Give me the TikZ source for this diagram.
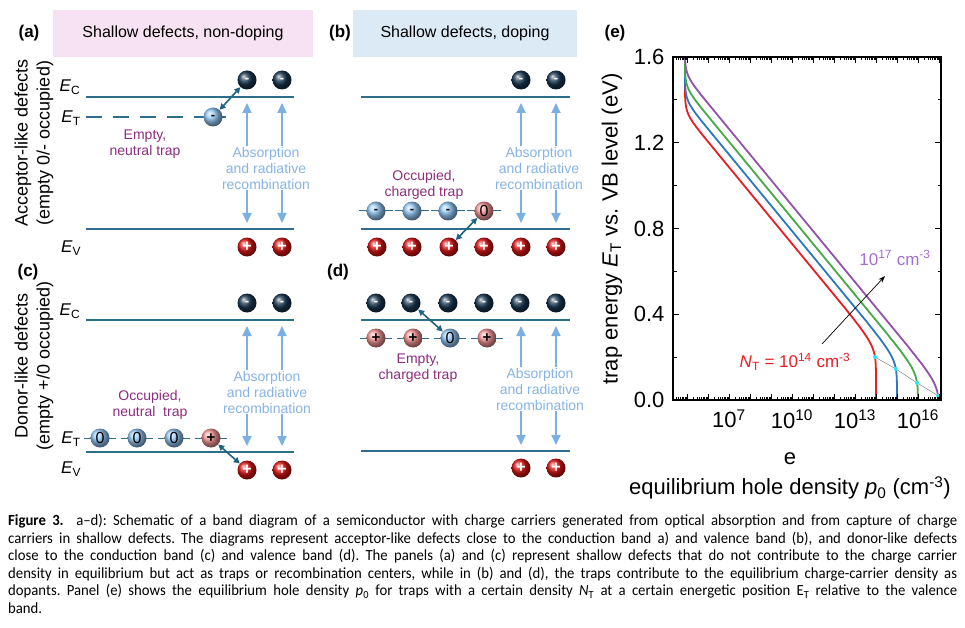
\documentclass[tikz,border=0pt]{standalone}
\usepackage{fontspec}
\setmainfont{Liberation Sans}
\newfontfamily\capfont[FakeStretch=0.95]{Carlito}
\frenchspacing
\usetikzlibrary{arrows.meta}

\definecolor{pinkc}{RGB}{246,226,242}
\definecolor{bluebc}{RGB}{220,234,246}
\definecolor{bandc}{RGB}{46,110,138}
\definecolor{hopc}{RGB}{30,100,128}
\definecolor{arrc}{RGB}{125,176,226}
\definecolor{abstc}{RGB}{135,180,228}
\definecolor{purpc}{RGB}{140,45,125}
\definecolor{elecc}{RGB}{25,55,82}
\definecolor{holec}{RGB}{220,20,20}
\definecolor{trapbc}{RGB}{150,202,248}
\definecolor{trappc}{RGB}{248,150,150}
\definecolor{redc}{RGB}{232,30,36}
\definecolor{bluec}{RGB}{44,120,190}
\definecolor{greenc}{RGB}{70,170,70}
\definecolor{purc}{RGB}{146,82,170}
\definecolor{purlt}{RGB}{165,110,210}
\definecolor{cyanc}{RGB}{40,230,240}

\tikzset{
  bandline/.style={draw=bandc, line width=1.8pt},
  trapline/.style={draw=bandc, line width=1pt},
  bead/.style={circle, inner sep=0pt, minimum size=19pt},
  elec/.style={bead, ball color=elecc, text=white, font=\fontsize{13}{13}\selectfont\bfseries},
  hole/.style={bead, ball color=holec, text=white, font=\fontsize{16}{16}\selectfont\bfseries},
  trapb/.style={bead, ball color=trapbc, text=black, font=\fontsize{16}{16}\selectfont},
  trapp/.style={bead, ball color=trappc, text=black, font=\fontsize{16}{16}\selectfont},
  hop/.style={draw=hopc, line width=1.6pt, >={Triangle[width=6pt,length=6pt]}, <->},
  optarr/.style={draw=arrc, line width=1.8pt, >={Triangle[width=9pt,length=10pt]}, <->},
  opttext/.style={fill=white, text=abstc, align=center, inner sep=1pt, font=\fontsize{14}{16}\selectfont},
  traptext/.style={text=purpc, align=center, font=\fontsize{14}{16}\selectfont},
  elab/.style={font=\fontsize{17}{17}\selectfont},
  panellab/.style={font=\fontsize{17}{17}\selectfont\bfseries},
  sidelab/.style={rotate=90, align=center, font=\fontsize{18}{22}\selectfont},
  titlebox/.style={minimum height=47pt, font=\fontsize{16}{16}\selectfont},
  curve/.style={line width=1.8pt},
  axtick/.style={line width=0.8pt},
  ticklab/.style={font=\fontsize{22}{22}\selectfont},
  dot/.style={circle, fill=cyanc, inner sep=0pt, minimum size=4pt},
  capnode/.style={anchor=north west, text width=949pt, align=justify, inner sep=0pt,
    font=\capfont\fontsize{15.5}{17.6}\selectfont},
}

\begin{document}
\begin{tikzpicture}[x=1pt, y=-1pt,
  declare function={
    dlt(\ee,\nn)=\nn-18.25+\ee/0.0595;
    ltr(\ee,\nn)=(dlt(\ee,\nn)>3) ? (\nn-dlt(\ee,\nn)/2) : (\nn+log10(2/(1+sqrt(1+4*exp(2.302585*max(min(dlt(\ee,\nn),3),-6))))));
    lpz(\ee,\nn)=max(ltr(\ee,\nn),4.9)+0.5*log10(1+exp(-4.60517*min(abs(ltr(\ee,\nn)-4.9),5)));
    hx(\ee,\nn)=876+21*(lpz(\ee,\nn)-14);
    hy(\ee)=400-214.375*\ee;
  }]
\useasboundingbox (0,0) rectangle (965,628);

% (a) acceptor-like, non-doping
\node[panellab] (la) at (29,33) {(a)};
\node[titlebox, fill=pinkc, minimum width=260pt] (ta) at (183,33.5) {Shallow defects, non-doping};
\node[sidelab] (sa) at (34,143) {Acceptor-like defects\\(empty 0/- occupied)};
\node[elab] (eca) at (70,87) {\textit{E}\textsubscript{C}};
\node[elab] (eta) at (71,118) {\textit{E}\textsubscript{T}};
\node[elab] (eva) at (71,248) {\textit{E}\textsubscript{V}};
\draw[bandline] (86,97) -- (294,97);
\draw[bandline, dash pattern=on 16pt off 11pt] (86,117) -- (226,117);
\draw[bandline] (86,229) -- (294,229);
\coordinate (a1t) at (247,103);
\coordinate (a1b) at (247,223);
\coordinate (a2t) at (282,103);
\coordinate (a2b) at (282,223);
\draw[optarr] (a1t) -- (a1b);
\draw[optarr] (a2t) -- (a2b);
\node[opttext] (oa) at (266,168) {Absorption\\and radiative\\recombination};
\node[traptext] (tta) at (145,144) {Empty,\\neutral trap};
\node[elec] (ea1) at (247,80) {-};
\node[elec] (ea2) at (282,80) {-};
\node[hole] (ha1) at (247,247) {+};
\node[hole] (ha2) at (282,247) {+};
\node[trapb, font=\fontsize{13}{13}\selectfont\bfseries] (tra) at (213,117) {-};
\draw[hop] (tra) -- (ea1);

% (b) acceptor-like, doping
\node[panellab] (lb) at (340,33) {(b)};
\node[titlebox, fill=bluebc, minimum width=224pt] (tb) at (465,33.5) {Shallow defects, doping};
\draw[bandline] (361,97) -- (570,97);
\draw[bandline] (361,229) -- (570,229);
\foreach \x in {376,412,448,484}
  \draw[trapline] (\x-17,211) -- (\x+17,211);
\coordinate (b1t) at (521,103);
\coordinate (b1b) at (521,223);
\coordinate (b2t) at (556,103);
\coordinate (b2b) at (556,223);
\draw[optarr] (b1t) -- (b1b);
\draw[optarr] (b2t) -- (b2b);
\node[opttext] (ob) at (539,168) {Absorption\\and radiative\\recombination};
\node[traptext] (ttb) at (424,185) {Occupied,\\charged trap};
\node[elec] (eb1) at (521,80) {-};
\node[elec] (eb2) at (556,80) {-};
\node[trapb, font=\fontsize{13}{13}\selectfont\bfseries] (trb1) at (376,211) {-};
\node[trapb, font=\fontsize{13}{13}\selectfont\bfseries] (trb2) at (412,211) {-};
\node[trapb, font=\fontsize{13}{13}\selectfont\bfseries] (trb3) at (448,211) {-};
\node[trapp] (trb4) at (484,211) {0};
\foreach \x [count=\i] in {377,412,449,484,521,556}
  \node[hole] (hb\i) at (\x,247) {+};
\draw[hop] (hb3) -- (trb4);

% (c) donor-like, non-doping
\node[panellab] (lc) at (28,272) {(c)};
\node[sidelab] (sc) at (34,366) {Donor-like defects\\(empty +/0 occupied)};
\node[elab] (ecc) at (70,311) {\textit{E}\textsubscript{C}};
\node[elab] (etc) at (71,439) {\textit{E}\textsubscript{T}};
\node[elab] (evc) at (71,469) {\textit{E}\textsubscript{V}};
\draw[bandline] (86,320) -- (294,320);
\draw[bandline] (86,452) -- (294,452);
\foreach \x in {100,137,174,211}
  \draw[trapline] (\x-16,438) -- (\x+16,438);
\coordinate (c1t) at (247,326);
\coordinate (c1b) at (247,446);
\coordinate (c2t) at (282,326);
\coordinate (c2b) at (282,446);
\draw[optarr] (c1t) -- (c1b);
\draw[optarr] (c2t) -- (c2b);
\node[opttext] (oc) at (267,392) {Absorption\\and radiative\\recombination};
\node[traptext] (ttc) at (150,405) {Occupied,\\neutral \ trap};
\node[elec] (ec1) at (247,303) {-};
\node[elec] (ec2) at (282,303) {-};
\node[trapb] (trc1) at (100,438) {0};
\node[trapb] (trc2) at (137,438) {0};
\node[trapb] (trc3) at (174,438) {0};
\node[trapp, font=\fontsize{15}{15}\selectfont\bfseries] (trc4) at (211,438) {+};
\node[hole] (hc1) at (247,470) {+};
\node[hole] (hc2) at (282,470) {+};
\draw[hop] (trc4) -- (hc1);

% (d) donor-like, doping
\node[panellab] (ld) at (338,272) {(d)};
\draw[bandline] (361,320) -- (570,320);
\draw[bandline] (361,451) -- (570,451);
\foreach \x in {376,413,450,487}
  \draw[trapline] (\x-16,338) -- (\x+16,338);
\coordinate (d1t) at (521,326);
\coordinate (d1b) at (521,445);
\coordinate (d2t) at (556,326);
\coordinate (d2b) at (556,445);
\draw[optarr] (d1t) -- (d1b);
\draw[optarr] (d2t) -- (d2b);
\node[opttext] (od) at (540,389) {Absorption\\and radiative\\recombination};
\node[traptext] (ttd) at (418,368) {Empty,\\charged trap};
\foreach \x [count=\i] in {376,411,448,484,520,556}
  \node[elec] (ed\i) at (\x,303) {-};
\node[trapp, font=\fontsize{15}{15}\selectfont\bfseries] (trd1) at (376,338) {+};
\node[trapp, font=\fontsize{15}{15}\selectfont\bfseries] (trd2) at (413,338) {+};
\node[trapb] (trd3) at (450,338) {0};
\node[trapp, font=\fontsize{15}{15}\selectfont\bfseries] (trd4) at (487,338) {+};
\node[hole] (hd1) at (521,468) {+};
\node[hole] (hd2) at (556,468) {+};
\draw[hop] (ed2) -- (trd3);

% (e) hole density vs trap energy
\node[panellab] (le) at (615,33) {(e)};
\draw[curve, redc] plot[domain=0:1.6, samples=161, variable=\en] ({hx(\en,14)},{hy(\en)});
\draw[curve, bluec] plot[domain=0:1.6, samples=161, variable=\en] ({hx(\en,15)},{hy(\en)});
\draw[curve, greenc] plot[domain=0:1.6, samples=161, variable=\en] ({hx(\en,16)},{hy(\en)});
\draw[curve, purc] plot[domain=0:1.6, samples=161, variable=\en] ({hx(\en,17)},{hy(\en)});
\node[dot] (p14) at ({hx(0.2,14)},{hy(0.2)}) {};
\node[dot] (p15) at ({hx(0.145,15)},{hy(0.145)}) {};
\node[dot] (p16) at ({hx(0.08,16)},{hy(0.08)}) {};
\node[dot] (p17) at ({hx(0.02,17)},{hy(0.02)}) {};
\draw[gray, line width=0.5pt] (p14) -- (p15) -- (p16) -- (p17);
% ticks
\foreach \L in {5,...,16}
  \foreach \k in {2,...,9} {
    \pgfmathsetmacro\tx{876+21*(\L-14+log10(\k))}
    \draw[axtick] (\tx,400) -- ++(0,-3) (\tx,57) -- ++(0,3);
  }
\foreach \k in {3,...,9} {
  \pgfmathsetmacro\tx{876+21*(4-14+log10(\k))}
  \draw[axtick] (\tx,400) -- ++(0,-3) (\tx,57) -- ++(0,3);
}
\foreach \L in {5,...,17} {
  \pgfmathsetmacro\tx{876+21*(\L-14)}
  \draw[axtick] (\tx,400) -- ++(0,-6) (\tx,57) -- ++(0,6);
}
\foreach \v in {0,...,4}
  \draw[axtick] (673,400-85.75*\v) -- ++(6,0) (941,400-85.75*\v) -- ++(-6,0);
\foreach \v in {1,3,5,7}
  \draw[axtick] (673,400-42.875*\v) -- ++(3.5,0) (941,400-42.875*\v) -- ++(-3.5,0);
\draw[line width=1.3pt] (673,57) rectangle (941,400);
\foreach \v/\t in {0/0.0,1/0.4,2/0.8,3/1.2,4/1.6}
  \node[ticklab, anchor=east] (yl\v) at (668,400-85.75*\v) {\t};
\foreach \p in {7,10,13,16}
  \node[ticklab] (xl\p) at ({876+21*(\p-14)},419) {10\textsuperscript{\p}};
\node[ticklab] (xe) at (790,459) {e};
\node[ticklab] (xt) at (790,488) {equilibrium hole density \textit{p}\textsubscript{0} (cm\textsuperscript{-3})};
\node[ticklab, rotate=90] (yt) at (612,229) {trap energy \textit{E}\textsubscript{T} vs. VB level (eV)};
\coordinate (ntail) at (822,344);
\coordinate (nhead) at (885,276);
\draw[-{Stealth[length=7pt,width=5pt]}, line width=0.7pt] (ntail) -- (nhead);
\node[text=redc, font=\fontsize{17}{17}\selectfont] (ntl) at (795,362) {\textit{N}\textsubscript{T} = 10\textsuperscript{14} cm\textsuperscript{-3}};
\node[text=purlt, font=\fontsize{17}{17}\selectfont] (nth) at (895,258) {10\textsuperscript{17} cm\textsuperscript{-3}};

% caption
\node[capnode] (cap) at (8,514) {\textbf{Figure 3.}\ \ a–d): Schematic of a band diagram of a semiconductor with charge carriers generated from optical absorption and from capture of charge\linebreak
carriers in shallow defects. The diagrams represent acceptor-like defects close to the conduction band a) and valence band (b), and donor-like defects\linebreak
close to the conduction band (c) and valence band (d). The panels (a) and (c) represent shallow defects that do not contribute to the charge carrier\linebreak
density in equilibrium but act as traps or recombination centers, while in (b) and (d), the traps contribute to the equilibrium charge-carrier density as\linebreak
dopants. Panel (e) shows the equilibrium hole density \textit{p}\textsubscript{0} for traps with a certain density \textit{N}\textsubscript{T} at a certain energetic position E\textsubscript{T} relative to the valence\linebreak
band.};
\end{tikzpicture}
\end{document}
